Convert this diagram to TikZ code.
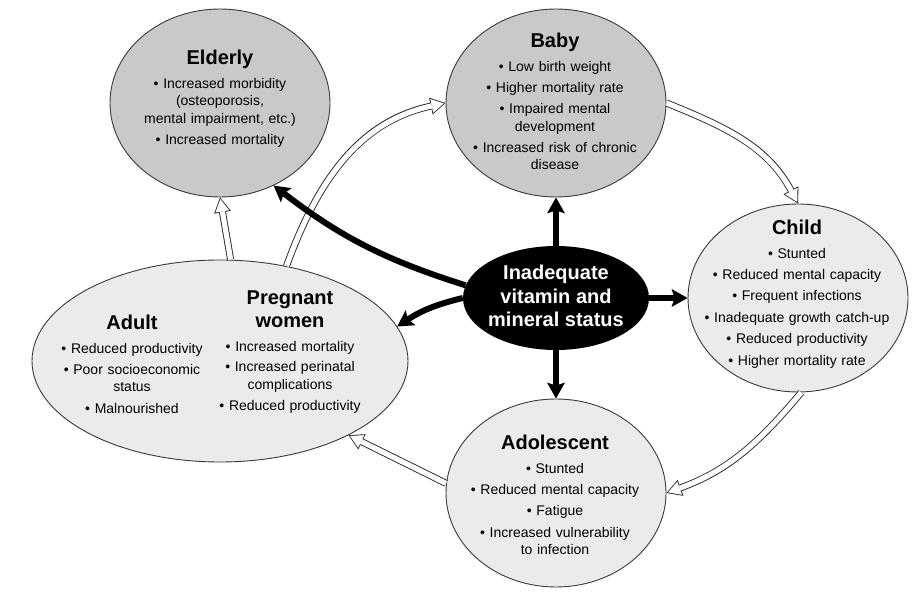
\documentclass[tikz,border=0pt]{standalone}
\usepackage{fontspec}
\setmainfont{Liberation Sans}
\usepackage{xcolor}
\usepackage{tikz}
\usetikzlibrary{shapes.geometric,arrows.meta,calc}

\definecolor{darkfill}{HTML}{C9C9C9}
\definecolor{lightfill}{HTML}{EBEBEB}
\definecolor{rimgray}{HTML}{3A3A3A}

% tieu de trong moi vong
\newcommand{\ttl}[1]{{\fontsize{20}{23}\selectfont\bfseries #1\\[6pt]}}

\begin{document}
\begin{tikzpicture}[x=1pt,y=1pt]
		
		\tikzset{
			grp/.style={ellipse, draw=rimgray, line width=0.9pt, inner sep=0pt,
				minimum width=220pt, minimum height=188pt},
			info/.style={text width=200pt, align=center, inner sep=0pt, anchor=north,
				font=\fontsize{14}{17.5}\selectfont},
			blk/.style={draw=black, line width=6pt,
				-{Stealth[length=16pt,width=18pt,inset=3pt,line width=0pt]}},
			hol/.style={draw=black!85, line width=7pt,
				-{Triangle[length=15pt,width=17pt,line width=0pt]},
				postaction={draw=white, line width=5.2pt, shorten >=1.7pt,
					-{Triangle[length=12.4pt,width=14pt,line width=0pt]}}}
		}
		
		\useasboundingbox (0,0) rectangle (923,597);
		
		% ===== CAC VONG (ELLIPSE) =====
		\node[grp, fill=darkfill] (eld) at (220,494) {};
		\node[grp, fill=darkfill] (baby) at (556,494) {};
		\node[grp, fill=lightfill] (chi) at (798,299) {};
		\node[grp, fill=lightfill] (ado) at (556,104) {};
		\node[grp, fill=lightfill, minimum width=376pt, minimum height=202pt] (adu) at (220,236) {};
		\node[ellipse, fill=black, inner sep=0pt, minimum width=186pt, minimum height=104pt] (cen) at (556,299) {};
		
		% ===== NOI DUNG =====
		\node[info] (eldtxt) at (220,547) {%
			\ttl{Elderly}
			• Increased morbidity\\
			(osteoporosis,\\
			mental impairment, etc.)\\[3.7pt]
			• Increased mortality};
		
		\node[info] (babytxt) at (555,564) {%
			\ttl{Baby}
			• Low birth weight\\[3.7pt]
			• Higher mortality rate\\[3.7pt]
			• Impaired mental\\
			development\\[3.7pt]
			• Increased risk of chronic\\
			disease};
		
		\node[info] (chitxt) at (797,377) {%
			\ttl{Child}
			• Stunted\\[3.9pt]
			• Reduced mental capacity\\[3.9pt]
			• Frequent infections\\[3.9pt]
			• Inadequate growth catch-up\\[3.9pt]
			• Reduced productivity\\[3.9pt]
			• Higher mortality rate};
		
		\node[info] (adotxt) at (555,162) {%
			\ttl{Adolescent}
			• Stunted\\[3.9pt]
			• Reduced mental capacity\\[3.9pt]
			• Fatigue\\[3.9pt]
			• Increased vulnerability\\
			to infection};
		
		\node[info, text width=155pt] (adutxt) at (132,282) {%
			\ttl{Adult}
			• Reduced productivity\\[3.7pt]
			• Poor socioeconomic\\
			status\\[3.7pt]
			• Malnourished};
		
		\node[info, text width=155pt] (pregtxt) at (290,306) {%
			\ttl{Pregnant\\women}
			• Increased mortality\\[3pt]
			• Increased perinatal\\
			complications\\[3.5pt]
			• Reduced productivity};
		
		\node[text=white, align=center, inner sep=0pt,
			font=\fontsize{20}{23.5}\selectfont\bfseries] (cenlbl)
			at ([yshift=2pt]cen.center) {Inadequate\\vitamin and\\mineral status};
		
		% ===== MUI TEN RONG (VONG DOI) =====
		\draw[hol] (baby.east) to[out=-22,in=118] (chi.north);
		\draw[hol] (chi.-88) to[out=-130,in=20] (ado.east);
		\draw[hol] (ado.175) -- (adu.-30);
		\draw[hol] (adu.84) -- (eld.south);
		\draw[hol] (adu.55) to[out=70,in=192] (baby.west);
		
		% ===== MUI TEN DEN (TU TRUNG TAM) =====
		\draw[blk] (cen.north) -- (baby.south);
		\draw[blk] (cen.south) -- (ado.north);
		\draw[blk] (cen.east) -- (chi.west);
		\draw[blk] (cen.west) to[bend right=10] (adu.11);
		\draw[blk] (cen.172) to[bend left=10] (eld.-57);
		
	\end{tikzpicture}
\end{document}
